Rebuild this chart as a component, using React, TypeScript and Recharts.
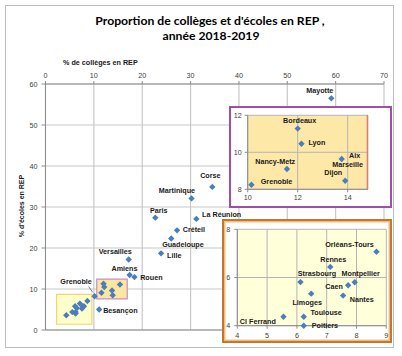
import React from "react";
import {
  ScatterChart,
  Scatter,
  XAxis,
  YAxis,
  CartesianGrid,
  ReferenceArea,
} from "recharts";

// académies : % de collèges en REP (x) et % d'écoles en REP (y)
const ACADEMIES = [
  "Mayotte", "Corse", "Martinique", "Paris", "La Réunion", "Créteil", "Guadeloupe", "Lille",
  "Versailles", "Amiens", "Rouen", "Besançon", "Grenoble", "Bordeaux", "Lyon", "Aix Marseille",
  "Nancy-Metz", "Dijon", "", "Orléans-Tours", "Rennes", "Strasbourg", "Montpellier", "Caen",
  "Limoges", "Nantes", "Cl Ferrand", "Toulouse", "Poitiers", "",
];
const PCT_COLLEGES = [
  59.1, 34.5, 30.2, 22.7, 31.2, 27.2, 26.0, 23.9, 17.2, 17.4, 18.4, 11.1, 10.15, 12.0, 12.15,
  13.76, 11.57, 13.9, 15.4, 8.67, 7.12, 6.12, 7.94, 7.72, 6.48, 7.55, 5.55, 6.23, 6.23, 4.3,
];
const PCT_ECOLES = [
  56.5, 34.9, 32.1, 27.4, 27.1, 24.3, 22.3, 18.7, 17.2, 13.4, 12.9, 5.0, 8.25, 11.28, 10.46,
  9.64, 9.1, 8.46, 11.1, 7.07, 6.44, 5.81, 5.8, 5.68, 5.33, 5.25, 4.37, 4.37, 4.0, 3.6,
];

const MAIN_X_TICKS = [0, 10, 20, 30, 40, 50, 60, 70];
const MAIN_Y_TICKS = [0, 10, 20, 30, 40, 50, 60];
const ZOOM1_X_TICKS = [10, 12, 14];
const ZOOM1_Y_TICKS = [8, 10, 12];
const ZOOM2_X_TICKS = [4, 5, 6, 7, 8, 9];
const ZOOM2_Y_TICKS = [4, 6, 8];

type Pt = { name: string; x: number; y: number };
const POINTS: Pt[] = ACADEMIES.map((name, i) => ({
  name,
  x: PCT_COLLEGES[i],
  y: PCT_ECOLES[i],
}));

const inBox = (x0: number, x1: number, y0: number, y1: number) =>
  POINTS.filter((p) => p.x >= x0 - 0.01 && p.x <= x1 + 0.01 && p.y >= y0 - 0.01 && p.y <= y1 + 0.01);

// label placement (px offset from the point), one entry per text line
type Spot = [number, number, "start" | "middle" | "end"];
const MAIN_SPOTS: Record<string, Spot[]> = {
  Mayotte: [[-11.5, -8, "middle"]],
  Corse: [[-2, -11, "middle"]],
  Martinique: [[-14.6, -8, "middle"]],
  Paris: [[3.5, -7.4, "middle"]],
  "La Réunion": [[5.7, -4.3, "start"]],
  Créteil: [[5.7, -0.6, "start"]],
  Guadeloupe: [[11.7, 6, "middle"]],
  Lille: [[6, 2, "start"]],
  Versailles: [[-13.4, -7.6, "middle"]],
  Amiens: [[-5.2, -6.3, "middle"]],
  Rouen: [[5.7, 0, "start"]],
  Besançon: [[4, 1, "start"]],
  Grenoble: [[-18.5, -14.7, "middle"]],
};
const ZOOM1_SPOTS: Record<string, Spot[]> = {
  Bordeaux: [[2, -8, "middle"]],
  Lyon: [[7, -1, "start"]],
  "Aix Marseille": [[13, -3.3, "middle"], [6, 5.3, "middle"]],
  "Nancy-Metz": [[-11.7, -7, "middle"]],
  Dijon: [[-12, -8.4, "middle"]],
  Grenoble: [[9.3, -3.4, "start"]],
};
const ZOOM2_SPOTS: Record<string, Spot[]> = {
  "Orléans-Tours": [[-27, -7, "middle"]],
  Rennes: [[3, -7.4, "middle"]],
  Strasbourg: [[16.5, -9, "middle"]],
  Montpellier: [[6, -9.3, "middle"]],
  Caen: [[-5.3, 1.3, "end"]],
  Limoges: [[-4, 8.7, "middle"]],
  Nantes: [[6.6, 4, "start"]],
  "Cl Ferrand": [[-7.7, 5, "end"]],
  Toulouse: [[6.7, -4, "start"]],
  Poitiers: [[8, 0, "start"]],
};

const FONT = "'Liberation Sans', Arial, sans-serif";
const BLUE = "#4a7ebb";
const TICK = { fontSize: 7.2, fill: "#404040", fontFamily: FONT };

function makeShape(spots: Record<string, Spot[]>, leader?: string) {
  return (props: any) => {
    const { cx, cy, payload } = props;
    if (cx == null || cy == null) return <g />;
    const r = 3.2;
    const list = spots[payload.name] || [];
    const lines = list.length > 1 ? payload.name.split(" ") : [payload.name];
    return (
      <g>
        <path
          d={`M${cx},${cy - r}L${cx + r},${cy}L${cx},${cy + r}L${cx - r},${cy}Z`}
          fill={BLUE}
        />
        {leader === payload.name && (
          <line x1={cx - 6} y1={cy - 9.7} x2={cx - 2} y2={cy - 4} stroke="#404040" strokeWidth={0.7} />
        )}
        {list.map(([dx, dy, anchor], i) => (
          <text
            key={i}
            x={cx + dx}
            y={cy + dy}
            textAnchor={anchor}
            dominantBaseline="central"
            fontFamily={FONT}
            fontWeight={700}
            fontSize={7.2}
            fill="#1a1a1a"
          >
            {lines[i]}
          </text>
        ))}
      </g>
    );
  };
}

function MainChart() {
  return (
    <ScatterChart width={402} height={356} margin={{ top: 66, right: 18, bottom: 12, left: 15.5 }}>
      <CartesianGrid stroke="#c8c8c8" strokeWidth={1.2} />
      <XAxis
        type="number"
        dataKey="x"
        orientation="top"
        domain={[0, 70]}
        ticks={MAIN_X_TICKS}
        height={18}
        tick={TICK}
        tickSize={3}
        tickMargin={3}
        stroke="#8c8c8c"
      />
      <XAxis
        xAxisId="b"
        type="number"
        dataKey="x"
        orientation="bottom"
        domain={[0, 70]}
        ticks={MAIN_X_TICKS}
        height={14}
        tick={TICK}
        tickSize={3}
        tickMargin={2}
        stroke="#8c8c8c"
      />
      <YAxis
        type="number"
        dataKey="y"
        domain={[0, 60]}
        ticks={MAIN_Y_TICKS}
        width={30}
        tick={TICK}
        tickSize={4}
        tickMargin={4}
        stroke="#8c8c8c"
      />
      <ReferenceArea x1={2.3} x2={9.6} y1={1.4} y2={8.7} fill="#ffffcc" fillOpacity={1} stroke="#f7d46a" strokeWidth={1.2} />
      <ReferenceArea x1={10.6} x2={16.9} y1={7.6} y2={12.4} fill="#fde6a0" fillOpacity={1} stroke="#c98bc6" strokeWidth={1.2} />
      <Scatter data={POINTS} shape={makeShape(MAIN_SPOTS, "Grenoble")} isAnimationActive={false} />
    </ScatterChart>
  );
}

function ZoomAcademies() {
  return (
    <ScatterChart width={159} height={98} margin={{ top: 7.3, right: 22.3, bottom: 4.7, left: 2.7 }}>
      <CartesianGrid stroke="#b4b4b4" fill="#fde8a8" fillOpacity={1} />
      <XAxis
        type="number"
        dataKey="x"
        domain={[10, 14.8]}
        ticks={ZOOM1_X_TICKS}
        height={12}
        tick={TICK}
        tickSize={3}
        tickMargin={3}
        stroke="#8c8c8c"
      />
      <YAxis
        type="number"
        dataKey="y"
        domain={[8, 12]}
        ticks={ZOOM1_Y_TICKS}
        width={14}
        tick={TICK}
        tickSize={3}
        tickMargin={3}
        stroke="#8c8c8c"
      />
      <ReferenceArea x1={14.78} x2={14.8} y1={8} y2={12} fill="none" stroke="#e07a6a" strokeWidth={1} />
      <Scatter data={inBox(10, 14.8, 8, 12)} shape={makeShape(ZOOM1_SPOTS)} isAnimationActive={false} />
    </ScatterChart>
  );
}

function ZoomSmall() {
  return (
    <ScatterChart width={166} height={120} margin={{ top: 8.3, right: 3.7, bottom: 3.3, left: 4.3 }}>
      <CartesianGrid stroke="#b4b4b4" fill="#ffffda" fillOpacity={1} />
      <XAxis
        type="number"
        dataKey="x"
        domain={[4, 9]}
        ticks={ZOOM2_X_TICKS}
        height={12}
        tick={TICK}
        tickSize={3}
        tickMargin={4}
        stroke="#8c8c8c"
      />
      <YAxis
        type="number"
        dataKey="y"
        domain={[4, 8]}
        ticks={ZOOM2_Y_TICKS}
        width={9}
        tick={TICK}
        tickSize={3}
        tickMargin={4}
        stroke="#8c8c8c"
      />
      <Scatter data={inBox(4, 9, 4, 8)} shape={makeShape(ZOOM2_SPOTS)} isAnimationActive={false} />
    </ScatterChart>
  );
}

export default function App() {
  return (
    <div style={{ position: "absolute", left: 0, top: 0, width: 402, height: 356, background: "#fff" }}>
      <div
        style={{
          position: "absolute",
          left: 5,
          top: 5,
          width: 387,
          height: 341,
          border: "1px solid #bdbdbd",
        }}
      />
      <div style={{ position: "absolute", left: 0, top: 0 }}>
        <MainChart />
      </div>
      <div
        style={{
          position: "absolute",
          left: 229,
          top: 106,
          width: 159,
          height: 98,
          border: "2px solid #a04fa6",
          background: "#fff",
        }}
      >
        <ZoomAcademies />
      </div>
      <div
        style={{
          position: "absolute",
          left: 222,
          top: 219,
          width: 166,
          height: 120,
          border: "2px solid #c2762f",
          boxShadow: "inset 0 0 0 1.5px #f1bd7c",
          background: "#fff",
        }}
      >
        <ZoomSmall />
      </div>
      <svg width={402} height={356} style={{ position: "absolute", left: 0, top: 0, pointerEvents: "none" }}>
        <g fontFamily="Lato, 'Open Sans', sans-serif" fontWeight={700} fontSize={12.2} fill="#000">
          <text x={210} y={20} textAnchor="middle" dominantBaseline="central">
            Proportion de collèges et d'écoles en REP ,
          </text>
          <text x={211} y={35.5} textAnchor="middle" dominantBaseline="central">
            année 2018-2019
          </text>
        </g>
        <text x={63} y={62.5} dominantBaseline="central" fontFamily={FONT} fontWeight={700} fontSize={7.2} fill="#1a1a1a">
          % de collèges en REP
        </text>
        <text
          transform="translate(21,206) rotate(-90)"
          textAnchor="middle"
          dominantBaseline="central"
          fontFamily={FONT}
          fontWeight={700}
          fontSize={7}
          fill="#1a1a1a"
        >
          % d'écoles en REP
        </text>
      </svg>
    </div>
  );
}
